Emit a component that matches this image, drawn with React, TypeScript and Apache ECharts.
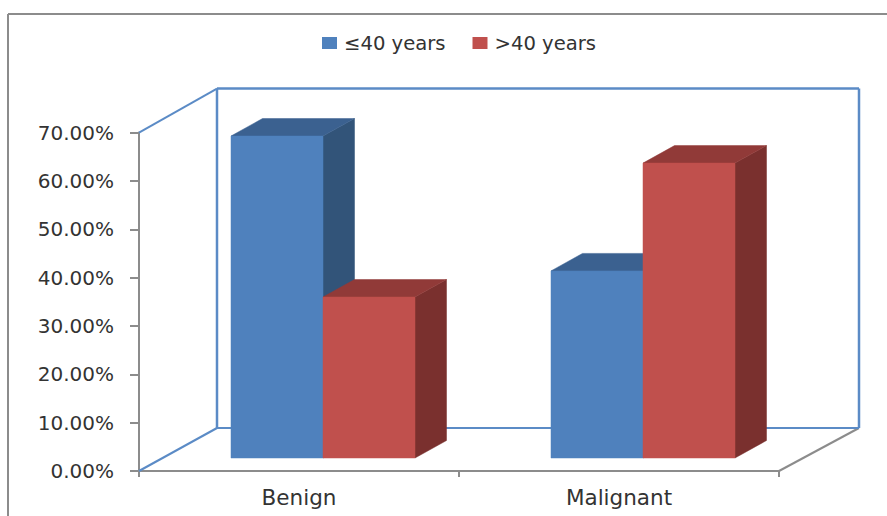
import React, { useEffect, useRef } from "react";
import * as echarts from "echarts";

const categories = ["Benign", "Malignant"];
const youngerName = "≤40 years";
const olderName = ">40 years";
const youngerValues = [0.666, 0.387];
const olderValues = [0.333, 0.61];
const yMax = 0.7;
const yStep = 0.1;

const BLUE = ["#4F81BD", "#3B6190", "#325479"];
const RED = ["#C0504D", "#913A38", "#7A302E"];
const FRAME = "#5B8BC6";
const GRAY = "#8C8C8C";

// projection of the 3D floor
const DEPTH_X = 78;
const DEPTH_Y = 43;
const BAR_W = 92;
const BAR_DX = 31.5;
const BAR_DY = 17.5;
const FRONT_X = 24;
const FRONT_Y = 13;

function barRenderer(colors: string[], side: number) {
  return (_p: any, api: any) => {
    const cat = api.value(0);
    const val = api.value(1);
    const base = api.coord([cat, 0]);
    const top = api.coord([cat, val]);
    const x0 = base[0] + FRONT_X + (side < 0 ? -BAR_W : 0);
    const x1 = x0 + BAR_W;
    const y0 = base[1] - FRONT_Y;
    const y1 = top[1] - FRONT_Y;
    const poly = (pts: number[][], fill: string) => ({
      type: "polygon",
      shape: { points: pts },
      style: { fill, stroke: fill, lineWidth: 0.5 },
    });
    return {
      type: "group",
      children: [
        poly([[x1, y0], [x1 + BAR_DX, y0 - BAR_DY], [x1 + BAR_DX, y1 - BAR_DY], [x1, y1]], colors[2]),
        poly([[x0, y1], [x0 + BAR_DX, y1 - BAR_DY], [x1 + BAR_DX, y1 - BAR_DY], [x1, y1]], colors[1]),
        poly([[x0, y0], [x1, y0], [x1, y1], [x0, y1]], colors[0]),
      ],
    };
  };
}

function frameRenderer(_p: any, api: any) {
  const band = api.size([1, 0])[0];
  const first = api.coord([0, 0]);
  const peak = api.coord([0, yMax]);
  const o = [first[0] - band / 2, first[1]];
  const t = [o[0], peak[1]];
  const e = [o[0] + band * categories.length, o[1]];
  const line = (a: number[], b: number[], stroke: string, lineWidth: number) => ({
    type: "line",
    shape: { x1: a[0], y1: a[1], x2: b[0], y2: b[1] },
    style: { stroke, lineWidth },
  });
  const bl = [o[0] + DEPTH_X, o[1] - DEPTH_Y];
  const tl = [t[0] + DEPTH_X, t[1] - DEPTH_Y - 1];
  const br = [e[0] + DEPTH_X + 2, bl[1]];
  const tr = [br[0], tl[1]];
  return {
    type: "group",
    children: [
      line(o, bl, FRAME, 2),
      line(t, tl, FRAME, 2),
      line(e, br, GRAY, 2),
      line(bl, br, FRAME, 2),
      line(bl, tl, FRAME, 2.5),
      line(tl, tr, FRAME, 2.5),
      line(tr, br, FRAME, 2.5),
    ],
  };
}

export default function App() {
  const ref = useRef<HTMLDivElement>(null);
  useEffect(() => {
    const chart = echarts.init(ref.current!, undefined, { renderer: "svg" });
    const textColor = "#333333";
    const font = "DejaVu Sans";
    chart.setOption({
      animation: false,
      backgroundColor: "#FFFFFF",
      graphic: [
        { type: "line", z: 0, shape: { x1: 8, y1: 14, x2: 887, y2: 14 }, style: { stroke: GRAY, lineWidth: 2 } },
        { type: "line", z: 0, shape: { x1: 8, y1: 14, x2: 8, y2: 516 }, style: { stroke: GRAY, lineWidth: 2 } },
      ],
      legend: {
        left: 317,
        top: 28,
        itemWidth: 15,
        itemHeight: 12,
        itemGap: 27,
        icon: "rect",
        data: [
          { name: youngerName, itemStyle: { color: BLUE[0] } },
          { name: olderName, itemStyle: { color: RED[0] } },
        ],
        textStyle: { fontFamily: font, fontSize: 19.6, color: textColor, padding: [0, 0, 0, 2] },
      },
      grid: { left: 139, right: 108, top: 132.6, bottom: 45 },
      xAxis: {
        type: "category",
        data: categories,
        axisLine: { lineStyle: { color: GRAY, width: 2 } },
        axisTick: { show: true, alignWithLabel: false, length: 6, lineStyle: { color: GRAY, width: 2 } },
        axisLabel: { fontFamily: font, fontSize: 21.5, color: textColor, margin: 15 },
      },
      yAxis: {
        type: "value",
        min: 0,
        max: yMax,
        interval: yStep,
        splitLine: { show: false },
        axisLine: { show: true, lineStyle: { color: GRAY, width: 2 } },
        axisTick: { show: true, length: 9, lineStyle: { color: GRAY, width: 2 } },
        axisLabel: {
          fontFamily: font,
          fontSize: 20,
          color: textColor,
          margin: 25,
          formatter: (v: number) => (v * 100).toFixed(2) + "%",
        },
      },
      series: [
        {
          type: "custom",
          name: "frame",
          silent: true,
          z: 1,
          data: [[0, 0]],
          renderItem: frameRenderer,
          clip: false,
        },
        {
          type: "custom",
          name: youngerName,
          z: 2,
          itemStyle: { color: BLUE[0] },
          data: youngerValues.map((v, i) => [i, v]),
          renderItem: barRenderer(BLUE, -1),
          encode: { x: 0, y: 1 },
          clip: false,
        },
        {
          type: "custom",
          name: olderName,
          z: 3,
          itemStyle: { color: RED[0] },
          data: olderValues.map((v, i) => [i, v]),
          renderItem: barRenderer(RED, 1),
          encode: { x: 0, y: 1 },
          clip: false,
        },
      ],
    });
    return () => chart.dispose();
  }, []);
  return <div ref={ref} style={{ position: "fixed", left: 0, top: 0, width: 887, height: 516 }} />;
}
